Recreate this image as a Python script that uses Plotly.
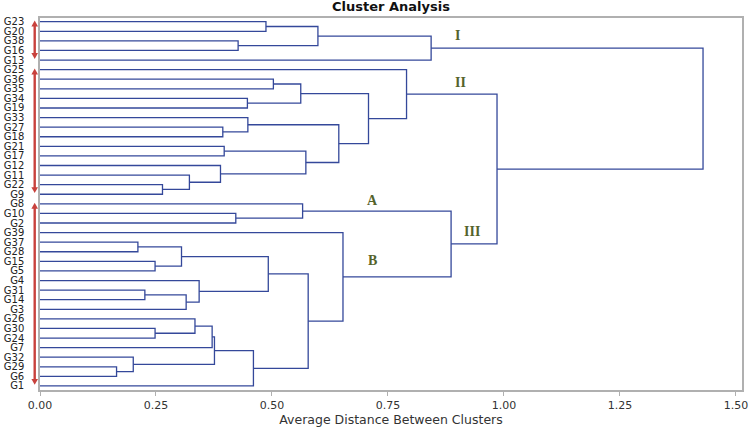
import plotly.graph_objects as go

# Leaves, top to bottom
leaves = ["G23", "G20", "G38", "G16", "G13", "G25", "G36", "G35", "G34", "G19",
          "G33", "G27", "G18", "G21", "G17", "G12", "G11", "G22", "G9", "G8",
          "G10", "G2", "G39", "G37", "G28", "G15", "G5", "G4", "G31", "G14",
          "G3", "G26", "G30", "G24", "G7", "G32", "G29", "G6", "G1"]

# Merge table (agglomeration steps)
merge_names = ["C1", "C2", "C3", "C4", "C5", "C6", "C7", "C8", "C9", "C10",
               "C11", "C12", "C13", "C14", "C15", "C16", "C17", "C18", "C19", "C20",
               "C21", "C22", "C23", "C24", "C25", "C26", "C27", "C28", "C29", "C30",
               "C31", "C32", "C33", "C34", "C35", "C36", "C37", "C38"]
merge_left = ["G23", "G38", "C1", "C3", "G36", "G34", "C5", "G27", "G33", "G21",
              "G22", "G11", "G12", "C10", "C9", "C7", "G25", "G10", "G8", "G37",
              "G15", "C20", "G31", "C23", "G4", "C22", "G30", "G26", "C28", "G29",
              "G32", "C29", "C32", "C26", "G39", "C19", "C17", "C4"]
merge_right = ["G20", "G16", "C2", "G13", "G35", "G19", "C6", "G18", "C8", "G17",
               "G9", "C11", "C12", "C13", "C14", "C15", "C16", "G2", "C18", "G28",
               "G5", "C21", "G14", "G3", "C24", "C25", "G24", "C27", "G7", "G6",
               "C30", "C31", "G1", "C33", "C34", "C35", "C36", "C37"]
merge_height = [0.487, 0.427, 0.599, 0.843, 0.503, 0.447, 0.562, 0.394, 0.448, 0.397,
                0.264, 0.322, 0.389, 0.573, 0.644, 0.708, 0.790, 0.422, 0.566, 0.211,
                0.248, 0.305, 0.226, 0.315, 0.343, 0.492, 0.248, 0.334, 0.371, 0.165,
                0.201, 0.376, 0.460, 0.578, 0.653, 0.886, 0.985, 1.429]

x_ticks = [0.00, 0.25, 0.50, 0.75, 1.00, 1.25, 1.50]

# Cluster group labels
group_labels = ["I", "II", "A", "III", "B"]
# Groups marked by arrows (first leaf, last leaf)
arrow_groups = [("G23", "G13"), ("G25", "G9"), ("G8", "G1")]

pos = {name: i for i, name in enumerate(leaves)}
hgt = {name: 0.0 for name in leaves}
xs, ys = [], []
for name, l, r, h in zip(merge_names, merge_left, merge_right, merge_height):
    yl, yr = pos[l], pos[r]
    xs += [hgt[l], h, h, hgt[r], None]
    ys += [yl, yl, yr, yr, None]
    pos[name] = (yl + yr) / 2
    hgt[name] = h

fig = go.Figure()
fig.add_trace(go.Scatter(x=xs, y=ys, mode="lines",
                         line=dict(color="#34489a", width=1.3),
                         hoverinfo="skip", showlegend=False))

label_xy = [(0.900, 1.46), (0.907, 6.34), (0.717, 18.68), (0.931, 21.89), (0.716, 24.95)]
for txt, (lx, ly) in zip(group_labels, label_xy):
    fig.add_annotation(x=lx, y=ly, xref="x", yref="y", text="<b>%s</b>" % txt,
                       showarrow=False,
                       font=dict(family="Liberation Serif", size=14, color="#55632b"))

# red double-headed arrows left of the axis (x in paper units, y in leaf rows)
plot_w = 702.0
arrow_x = -5.3 / plot_w
half_w = 3.3 / plot_w
head_h = 0.62
arr_color = "#c8413c"
for a, b in arrow_groups:
    top = pos[a] - 0.12
    bot = pos[b] - 0.12
    fig.add_shape(type="line", xref="paper", yref="y", x0=arrow_x, x1=arrow_x,
                  y0=top + head_h * 0.8, y1=bot - head_h * 0.8,
                  line=dict(color=arr_color, width=2.4), layer="above")
    fig.add_shape(type="path", xref="paper", yref="y", layer="above",
                  path="M %f,%f L %f,%f L %f,%f Z" % (arrow_x - half_w, top + head_h,
                                                      arrow_x + half_w, top + head_h,
                                                      arrow_x, top),
                  fillcolor=arr_color, line=dict(width=0))
    fig.add_shape(type="path", xref="paper", yref="y", layer="above",
                  path="M %f,%f L %f,%f L %f,%f Z" % (arrow_x - half_w, bot - head_h,
                                                      arrow_x + half_w, bot - head_h,
                                                      arrow_x, bot),
                  fillcolor=arr_color, line=dict(width=0))

fig.update_layout(
    width=750, height=428,
    margin=dict(l=40, r=8, t=18, b=38),
    paper_bgcolor="white", plot_bgcolor="white",
    title=dict(text="<b>Cluster Analysis</b>", xref="paper", x=0.5, xanchor="center",
               yref="container", y=1 - 6 / 428, yanchor="middle",
               font=dict(family="DejaVu Sans", size=13, color="#111111")),
    font=dict(family="DejaVu Sans", size=11, color="#333333"),
    showlegend=False,
)
fig.update_xaxes(range=[0, 1.513], tickvals=x_ticks,
                 ticktext=["%.2f" % v for v in x_ticks],
                 showgrid=False, zeroline=False, automargin=False,
                 showline=True, linecolor="#b0b0b0", linewidth=1.5, mirror=True,
                 ticks="outside", ticklen=4, tickcolor="#b0b0b0",
                 tickfont=dict(family="DejaVu Sans", size=11, color="#333333"),
                 title=dict(text="Average Distance Between Clusters", standoff=2,
                            font=dict(family="DejaVu Sans", size=12.5, color="#333333")))
fig.update_yaxes(range=[38.42, -0.386], tickvals=list(range(len(leaves))),
                 ticktext=leaves, showgrid=False, zeroline=False, automargin=False,
                 showline=True, linecolor="#b0b0b0", linewidth=1.5, mirror=True,
                 ticks="", ticklabelstandoff=12,
                 tickfont=dict(family="DejaVu Sans", size=10, color="#222222"))

fig.write_html("out.html", config={"displayModeBar": False},
               post_script="document.body.style.margin='0px';document.body.style.overflow='hidden';")
